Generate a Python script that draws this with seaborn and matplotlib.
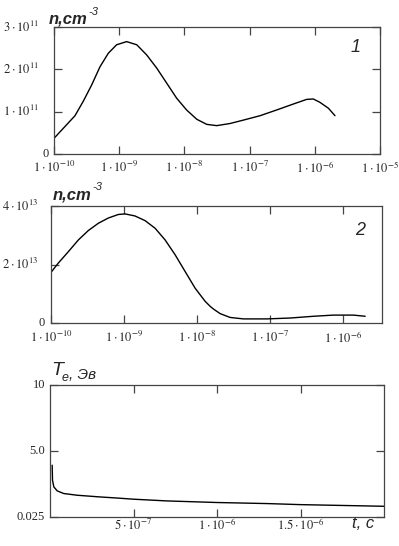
import seaborn as sns
import matplotlib
matplotlib.use("Agg")
import matplotlib.pyplot as plt

# panel 1: n(t), log time axis
t1 = [1.0e-10, 2.10e-10, 2.82e-10, 3.78e-10, 5.07e-10, 6.81e-10, 9.12e-10, 1.30e-9,
      1.86e-9, 2.64e-9, 3.76e-9, 5.37e-9, 7.59e-9, 1.08e-8, 1.55e-8, 2.20e-8,
      3.13e-8, 5.0e-8, 8.0e-8, 1.45e-7, 2.60e-7, 4.68e-7, 7.50e-7, 9.48e-7,
      1.20e-6, 1.62e-6, 2.04e-6]
n1 = [0.37e11, 0.905e11, 1.25e11, 1.63e11, 2.06e11, 2.38e11, 2.58e11, 2.655e11,
      2.58e11, 2.34e11, 2.03e11, 1.67e11, 1.32e11, 1.04e11, 0.82e11, 0.70e11,
      0.67e11, 0.72e11, 0.80e11, 0.905e11, 1.04e11, 1.18e11, 1.29e11, 1.30e11,
      1.22e11, 1.08e11, 0.905e11]

# panel 2
t2 = [1.0e-10, 1.26e-10, 1.73e-10, 2.37e-10, 3.24e-10, 4.45e-10, 6.10e-10, 8.36e-10,
      1.03e-9, 1.41e-9, 1.94e-9, 2.66e-9, 3.65e-9, 5.01e-9, 6.86e-9, 9.40e-9,
      1.29e-8, 1.51e-8, 1.67e-8, 2.07e-8, 2.83e-8, 4.31e-8, 9.02e-8, 1.88e-7,
      3.92e-7, 7.36e-7, 1.38e-6, 2.0e-6]
n2 = [1.73e13, 2.05e13, 2.44e13, 2.84e13, 3.16e13, 3.41e13, 3.59e13, 3.71e13,
      3.73e13, 3.66e13, 3.50e13, 3.24e13, 2.84e13, 2.33e13, 1.76e13, 1.19e13,
      0.74e13, 0.57e13, 0.48e13, 0.32e13, 0.19e13, 0.14e13, 0.14e13, 0.17e13,
      0.23e13, 0.27e13, 0.27e13, 0.23e13]

# panel 3: electron temperature, linear time axis
t3 = [0.013e-6, 0.015e-6, 0.023e-6, 0.043e-6, 0.082e-6, 0.162e-6, 0.30e-6,
      0.40e-6, 0.50e-6, 0.70e-6, 1.0e-6, 1.3e-6, 1.5e-6, 2.0e-6]
te = [3.94, 2.8, 2.3, 2.0, 1.8, 1.67, 1.54, 1.46, 1.37, 1.24, 1.12, 1.04, 0.96, 0.835]

xt_log = [1e-10, 1e-9, 1e-8, 1e-7, 1e-6, 1e-5]
xl_log = [r"$1\cdot10^{-10}$", r"$1\cdot10^{-9}$", r"$1\cdot10^{-8}$",
          r"$1\cdot10^{-7}$", r"$1\cdot10^{-6}$", r"$1\cdot10^{-5}$"]
y1_ticks = [0, 1e11, 2e11, 3e11]
y1_labels = ["0", r"$1\cdot10^{11}$", r"$2\cdot10^{11}$", r"$3\cdot10^{11}$"]
y2_ticks = [0, 2e13, 4e13]
y2_labels = ["0", r"$2\cdot10^{13}$", r"$4\cdot10^{13}$"]
x3_ticks = [5e-7, 1e-6, 1.5e-6]
x3_labels = [r"$5\cdot10^{-7}$", r"$1\cdot10^{-6}$", r"$1.5\cdot10^{-6}$"]
y3_ticks = [0.025, 5.0, 10]
y3_labels = ["0.025", "5.0", "10"]

sns.set_style("ticks")
plt.rcParams["font.family"] = ["Liberation Serif", "DejaVu Serif"]
plt.rcParams["mathtext.fontset"] = "stix"

W, H = 399, 546
fig = plt.figure(figsize=(W / 100, H / 100), dpi=100)


def box(l, t, r, b):
    return fig.add_axes([l / W, 1 - b / H, (r - l) / W, (b - t) / H])


def style(ax, xpad=3.5):
    for s in ax.spines.values():
        s.set_linewidth(0.9)
        s.set_color("#444444")
    ax.tick_params(which="major", direction="in", length=6, width=0.9,
                   labelsize=9, color="#444444", pad=3.5)
    ax.tick_params(axis="x", pad=xpad)
    ax.tick_params(which="minor", length=0)
    ax.set_xlabel("")
    ax.set_ylabel("")


def ylabels(ax, ticks, labels, gap0, gap):
    # Mathcad leaves a wider gap before the "a·10^k" labels than before "0"
    ax.set_yticks(ticks, [""] * len(ticks))
    for v, s in zip(ticks, labels):
        g = gap if "$" in s else gap0
        ax.annotate(s, xy=(0, v), xycoords=("axes fraction", "data"),
                    xytext=(-g * 0.72, 0), textcoords="offset points",
                    ha="right", va="center", fontsize=9, annotation_clip=False)


ax1 = box(54, 27, 380, 154)
sns.lineplot(x=t1, y=n1, ax=ax1, color="black", linewidth=1, sort=False)
ax1.set_xscale("log")
ax1.set_xlim(1e-10, 1e-5)
ax1.set_ylim(0, 3e11)
ax1.set_xticks(xt_log, xl_log)
style(ax1, 4.5)
ax1.tick_params(top=True, right=True)
ylabels(ax1, y1_ticks, y1_labels, 5, 15)

ax2 = box(51, 206, 382, 323)
sns.lineplot(x=t2, y=n2, ax=ax2, color="black", linewidth=1, sort=False)
ax2.set_xscale("log")
ax2.set_xlim(1e-10, 3.4e-6)
ax2.set_ylim(0, 4e13)
ax2.set_xticks(xt_log[:-1], xl_log[:-1])
style(ax2, 5)
ax2.tick_params(top=True)
ylabels(ax2, y2_ticks, y2_labels, 6, 13)

ax3 = box(50, 385, 384, 517)
sns.lineplot(x=t3, y=te, ax=ax3, color="black", linewidth=1, sort=False)
ax3.set_xlim(0, 2e-6)
ax3.set_ylim(0.025, 10)
ax3.set_xticks(x3_ticks, x3_labels)
style(ax3, 0.5)
ax3.tick_params(top=True, right=True)
ylabels(ax3, y3_ticks, y3_labels, 5, 5)

sans = "Liberation Sans"


def at(x, y, s, **kw):
    return fig.text(x / W, 1 - y / H, s, family=sans, style="italic", **kw)


# axis titles (n,cm^-3), superscript placed just after the text
for x0, y0, ys in [(49, 24, 15), (53, 199, 190)]:
    t = at(x0, y0, "n,cm", fontsize=12, weight="bold")
    fig.canvas.draw()
    bb = t.get_window_extent()
    fig.text((bb.x1 + 0.5) / W, 1 - ys / H, "-3", family=sans,
             style="italic", fontsize=8)

at(351, 52, "1", fontsize=13)
at(355, 235, "2", fontsize=13)

tt = at(51, 375, "T", fontsize=14)
fig.canvas.draw()
bb = tt.get_window_extent()
ee = fig.text((bb.x1 - 1) / W, (bb.y0 - 2) / H, "e", family=sans,
              style="italic", fontsize=9)
fig.canvas.draw()
be = ee.get_window_extent()
fig.text((be.x1 + 0.5) / W, bb.y0 / H, ", Эв", family=sans, style="italic",
         fontsize=11)

at(352, 528, "t, c", fontsize=12)

fig.savefig("out.png", dpi=100)
